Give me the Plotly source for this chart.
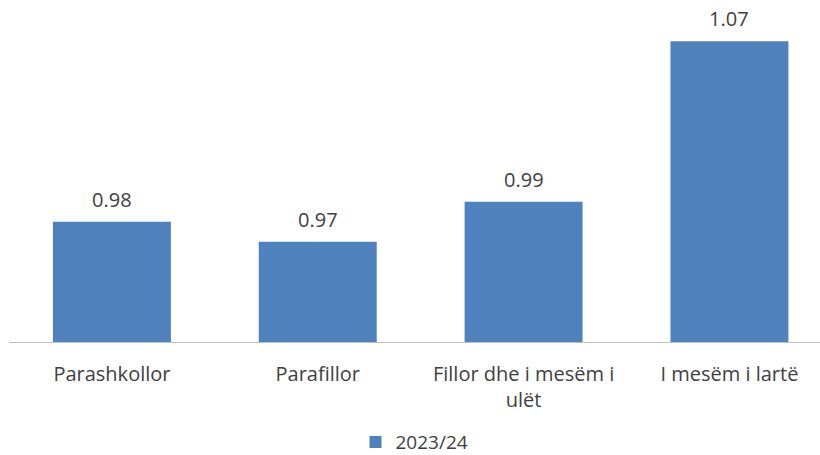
import plotly.graph_objects as go

categories = ["Parashkollor", "Parafillor", "Fillor dhe i mesëm i<br>ulët", "I mesëm i lartë"]
values = [0.98, 0.97, 0.99, 1.07]
series_name = "2023/24"

BAR = "#4F81BD"
TXT = "#404040"
FONT = "Open Sans"

fig = go.Figure()
fig.add_trace(go.Bar(
    x=categories, y=values, name=series_name,
    marker=dict(color=BAR, line=dict(width=0)),
))

for c, v in zip(categories, values):
    fig.add_annotation(x=c, y=v, text=f"{v:.2f}", showarrow=False,
                       yanchor="bottom", yshift=7,
                       font=dict(family=FONT, size=20, color=TXT))

ymin = 0.92
plot_h = 342
fig.update_layout(
    width=820, height=455,
    margin=dict(l=9, r=0, t=0, b=455 - plot_h, autoexpand=False),
    paper_bgcolor="white", plot_bgcolor="white",
    bargap=0.427,
    font=dict(family=FONT, size=20, color=TXT),
    showlegend=True,
    legend=dict(orientation="h", x=0.5, xanchor="center", y=-0.293, yanchor="middle",
                font=dict(family=FONT, size=19, color=TXT), itemwidth=30),
    xaxis=dict(range=[-0.5, 3.44], showline=True, linecolor="#BFBFBF", linewidth=1,
               ticks="outside", ticklen=14, tickcolor="rgba(0,0,0,0)",
               tickfont=dict(family=FONT, size=20, color=TXT), showgrid=False),
    yaxis=dict(range=[ymin, ymin + plot_h / 2005], visible=False, showgrid=False),
)

fig.write_html("out.html", config={"displayModeBar": False},
               post_script="document.body.style.margin='0px';")
